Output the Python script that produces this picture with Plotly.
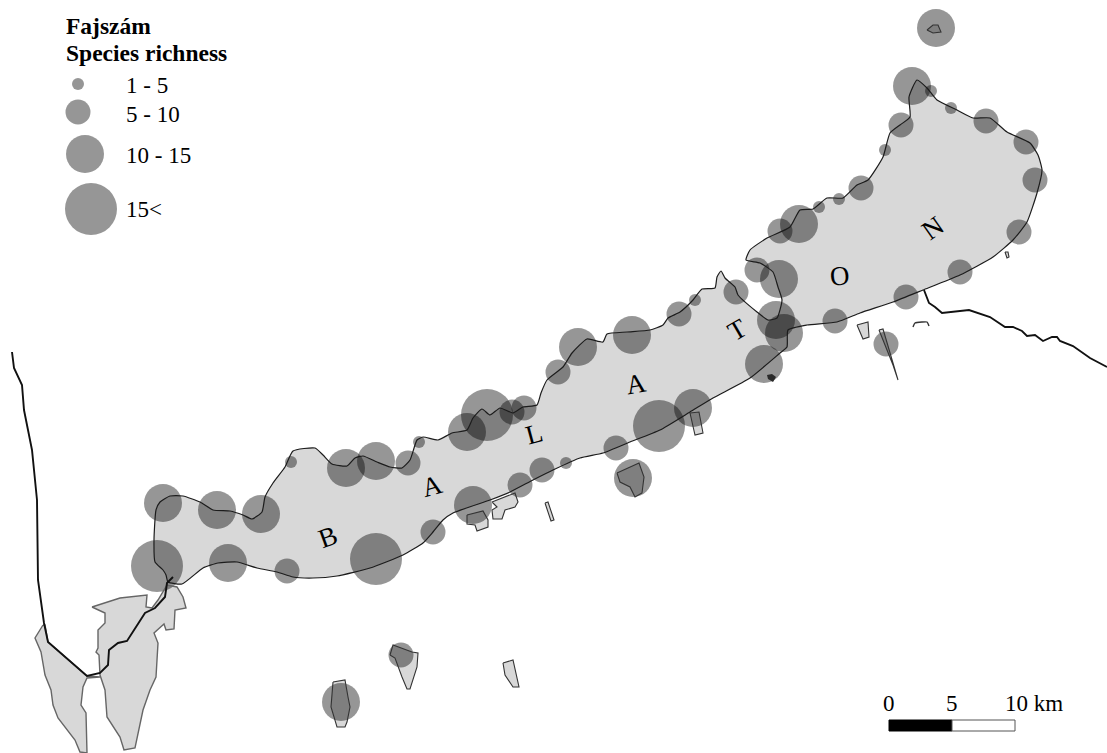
import plotly.graph_objects as go

# Map units: the reference picture's own grid (x to the east, y down)
lake_x = [168,166,163,155,154,156,160,170,183,200,213,230,243,252,262,265,273,285,293,315,323,332,347,355,363,377,390,402,410,417,423,438,452,467,473,482,490,500,513,523,537,541,547,563,572,587,603,607,627,650,663,668,680,693,702,715,717,721,725,735,738,757,768,777,782,778,773,760,746,750,767,790,800,813,827,843,857,868,883,890,900,910,909,917,927,937,957,973,990,1007,1030,1038,1042,1037,1027,1013,993,960,923,893,860,837,807,788,787,780,750,713,690,660,630,603,580,553,533,510,490,453,443,433,423,403,370,337,313,293,277,257,237,218,203,182,168]
lake_y = [582,575,570,562,540,510,502,496,496,502,510,511,515,519,512,497,483,467,451,448,455,464,466,458,456,462,467,468,460,440,437,440,433,430,418,409,415,408,413,407,405,393,380,367,353,339,342,334,332,330,325,318,312,300,289,288,277,271,278,287,295,312,320,318,300,287,272,263,260,250,238,227,210,209,198,198,185,180,157,133,125,117,97,80,88,100,110,118,118,132,143,155,170,193,222,240,257,275,290,302,313,322,325,330,347,353,378,398,412,430,442,453,458,470,480,492,500,513,520,532,543,555,568,576,578,577,572,568,562,563,568,584,582]

kis_left_x = [43,35,41,45,51,53,58,75,80,87,86,81,83,87,100,87,48,45,43]
kis_left_y = [625,638,652,675,690,705,718,740,752,753,713,705,687,678,677,676,642,625,625]
kis_right_x = [92,120,147,146,152,158,167,177,183,186,175,174,166,164,154,158,156,150,143,135,124,120,107,105,100,99,96,98,98,105,105,92]
kis_right_y = [607,598,595,607,608,600,585,587,597,608,610,629,630,624,633,643,677,690,710,748,750,737,717,690,675,655,652,648,630,623,613,607]

ponds = [
    ([467,483,488,488,477,475,467,467],[515,511,520,527,531,525,524,515]),
    ([492,515,518,515,505,502,493,492,497,492],[502,493,502,507,510,519,519,510,507,502]),
    ([545,548,554,551,545],[503,502,520,521,503]),
    ([617,639,644,642,635,630,620,617],[473,463,477,493,497,487,482,473]),
    ([690,699,703,695,690],[413,412,433,435,413]),
    ([390,393,412,418,417,410,407,402,395,390],[655,645,652,653,667,689,689,677,658,655]),
    ([333,345,348,350,347,345,337,331,333],[682,680,697,707,722,727,727,707,682]),
    ([503,513,519,513,505,503],[663,660,687,687,675,663]),
    ([857,868,869,863,857],[325,322,337,339,325]),
    ([879,883,898,893,879],[330,329,380,365,330]),
    ([1005,1008,1009,1007,1005],[252,252,257,258,252]),
    ([927,933,938,941,933,927],[30,25,25,32,33,30]),
]
blob_x = [767,772,776,773,768,767]
blob_y = [375,374,377,382,379,375]
arc_x = [913,915,922,927,929]
arc_y = [327,323,322,322,326]

river_west_x = [12,14,22,24,28,32,37,38,44,48,87,100,108,109,118,127,145,155,165,167,173]
river_west_y = [352,368,385,410,430,450,500,580,623,642,676,673,665,650,643,641,613,608,597,583,577]
river_east_x = [924,929,935,942,969,990,1005,1013,1022,1027,1035,1043,1052,1057,1060,1073,1090,1107]
river_east_y = [290,303,307,313,310,317,327,327,331,336,335,341,337,337,341,346,358,367]

# Sampling sites and their richness class (1: 1-5, 2: 5-10, 3: 10-15, 4: 15<)
site_x = [163,217,261,157,228,287,376,291,346,376,408,341,401,419,467,487,512,524,558,578,632,679,542,520,566,616,659,693,633,473,433,936,912,931,951,986,1026,1035,1019,960,906,835,886,901,885,861,839,819,799,780,757,779,736,695,776,784,764]
site_y = [503,510,514,566,563,571,559,462,468,461,463,702,655,442,432,415,412,408,372,347,335,314,470,485,463,448,426,408,478,505,532,28,86,91,108,121,142,180,232,272,297,321,344,125,150,188,199,207,224,231,270,279,292,300,320,333,364]
site_class = [3,3,3,4,3,2,4,1,3,3,2,3,2,1,3,4,2,2,2,3,3,2,2,2,1,2,4,3,3,3,2,3,3,1,1,2,2,2,2,2,2,2,2,2,1,2,1,1,3,2,2,3,2,1,3,3,3]

legend_title = ["Fajszám", "Species richness"]
legend_labels = ["1 - 5", "5 - 10", "10 - 15", "15<"]
legend_class = [1, 2, 3, 4]
legend_x = [78, 78, 85, 91]
legend_y = [84, 112, 154, 209]
legend_label_y = [85, 114, 155, 209]

lake_letters = ["B", "A", "L", "A", "T", "O", "N"]
letter_x = [328, 432, 534, 636, 737, 840, 933]
letter_y = [537, 486, 434, 384, 330, 276, 228]
letter_angle = [-20, -15, -15, -10, -30, -5, -35]

scale_km = [0, 5, 10]
KM = 12.6          # map units per km
SCALE_X0, SCALE_TOP, SCALE_BOT = 889, 720, 731
DIAM = {1: 12, 2: 25, 3: 38, 4: 52}
CIRCLE = "rgba(0,0,0,0.41)"
SERIF = "Liberation Serif"

fig = go.Figure()

def poly(x, y, fill="#d8d8d8", shape="linear"):
    fig.add_trace(go.Scatter(x=x, y=y, mode="lines", fill="toself", fillcolor=fill,
                             line=dict(width=0, shape=shape, smoothing=0.5),
                             hoverinfo="skip", showlegend=False))

def line(x, y, color="#222222", width=1.2, shape="linear"):
    fig.add_trace(go.Scatter(x=x, y=y, mode="lines",
                             line=dict(color=color, width=width, shape=shape, smoothing=0.5),
                             hoverinfo="skip", showlegend=False))

poly(lake_x, lake_y, shape="spline")
poly(kis_left_x, kis_left_y)
poly(kis_right_x, kis_right_y)
for px, py in ponds:
    poly(px, py)

fig.add_trace(go.Scatter(x=site_x, y=site_y, mode="markers", showlegend=False, hoverinfo="skip",
                         marker=dict(size=[DIAM[c] for c in site_class], color=CIRCLE,
                                     opacity=1, line=dict(width=0))))
fig.add_trace(go.Scatter(x=legend_x, y=legend_y, mode="markers", showlegend=False, hoverinfo="skip",
                         marker=dict(size=[DIAM[c] for c in legend_class], color=CIRCLE,
                                     opacity=1, line=dict(width=0))))

poly(blob_x, blob_y, fill="#2a2a2a")
line(kis_left_x, kis_left_y, "#666666", 1.4)
line(kis_right_x, kis_right_y, "#666666", 1.4)
for px, py in ponds:
    line(px, py, "#333333", 1.1)
line(arc_x, arc_y, "#333333", 1.4, "spline")
line(lake_x, lake_y, "#1c1c1c", 1.2, "spline")
line(river_west_x, river_west_y, "#111111", 1.9)
line(river_east_x, river_east_y, "#111111", 1.9)

# scale bar
a, b, c = [SCALE_X0 + k * KM for k in scale_km]
fig.add_trace(go.Scatter(x=[a, b, b, a, a], y=[SCALE_TOP, SCALE_TOP, SCALE_BOT, SCALE_BOT, SCALE_TOP],
                         mode="lines", fill="toself", fillcolor="#000000",
                         line=dict(color="#000000", width=1), hoverinfo="skip", showlegend=False))
fig.add_trace(go.Scatter(x=[b, c, c, b, b], y=[SCALE_TOP, SCALE_TOP, SCALE_BOT, SCALE_BOT, SCALE_TOP],
                         mode="lines", fill="toself", fillcolor="#ffffff",
                         line=dict(color="#555555", width=1), hoverinfo="skip", showlegend=False))

ann = []
def text(s, x, y, size, angle=0, anchor="center", bold=False):
    ann.append(dict(x=x, y=y, xref="x", yref="y", text=f"<b>{s}</b>" if bold else s, showarrow=False,
                    xanchor=anchor, yanchor="middle", textangle=angle,
                    font=dict(family=SERIF, size=size, color="#000000")))

text(legend_title[0], 64, 26, 23.5, anchor="left", bold=True)
text(legend_title[1], 64, 53, 23.5, anchor="left", bold=True)
for lab, ly in zip(legend_labels, legend_label_y):
    text(lab, 124, ly, 23, anchor="left")
for s, x, y, an in zip(lake_letters, letter_x, letter_y, letter_angle):
    text(s, x, y, 27, angle=an)
for k in scale_km:
    text(f"{k} km" if k == 10 else str(k), SCALE_X0 + k * KM, 703, 23,
         anchor="left" if k == 10 else "center")
ann[-1]["x"] = SCALE_X0 + 10 * KM - 12

fig.update_layout(
    width=1107, height=753, margin=dict(l=0, r=0, t=0, b=0),
    paper_bgcolor="#ffffff", plot_bgcolor="#ffffff", annotations=ann, showlegend=False,
    xaxis=dict(range=[0, 1107], visible=False, fixedrange=True),
    yaxis=dict(range=[753, 0], visible=False, fixedrange=True),
)
fig.write_html("out.html", post_script="document.body.style.margin='0';", config={"displayModeBar": False})
